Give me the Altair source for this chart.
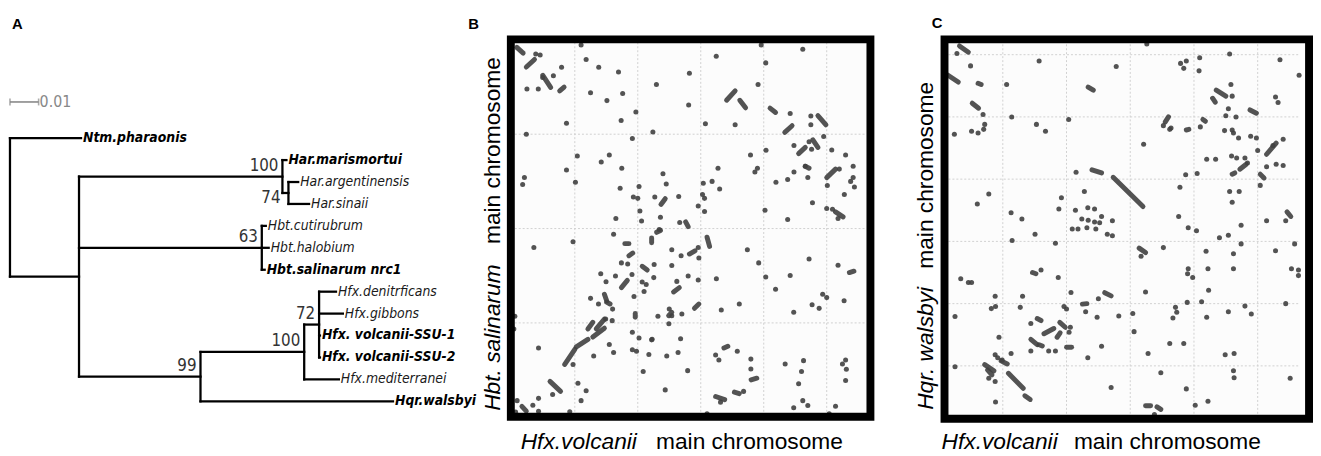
import altair as alt
import pandas as pd

# ---------------- Panel A: phylogenetic tree ----------------
tree_node = ["root", "Ntm.pharaonis", "n1", "n_har", "Har.marismortui", "n_har74",
             "Har.argentinensis", "Har.sinaii", "n_hbt", "Hbt.cutirubrum", "Hbt.halobium",
             "Hbt.salinarum nrc1", "n99", "n_hfx", "n72", "Hfx.denitrficans", "Hfx.gibbons",
             "Hfx. volcanii-SSU-1", "Hfx. volcanii-SSU-2", "Hfx.mediterranei", "Hqr.walsbyi"]
tree_parent = ["", "root", "root", "n1", "n_har", "n_har", "n_har74", "n_har74", "n1",
               "n_hbt", "n_hbt", "n_hbt", "n1", "n99", "n_hfx", "n72", "n72", "n72", "n72",
               "n_hfx", "n99"]
tree_branch = [0.0, 0.0248, 0.0241, 0.0710, 0.0014, 0.0021, 0.0034, 0.0072, 0.0638, 0.0014,
               0.0024, 0.0010, 0.0424, 0.0362, 0.0052, 0.0059, 0.0083, 0.0003, 0.0003,
               0.0121, 0.0672]
boot_node = ["n_har", "n_hbt", "n72", "n_hfx", "n99"]
boot_value = ["100", "63", "72", "100", "99"]
boot_low_node = ["n_har74"]
boot_low_value = ["74"]
bold_tips = ["Ntm.pharaonis", "Har.marismortui", "Hbt.salinarum nrc1",
             "Hfx. volcanii-SSU-1", "Hfx. volcanii-SSU-2", "Hqr.walsbyi"]
scale_bar = [0.0, 0.01]
scale_bar_label = "0.01"

# ---------------- Panel B: Hfx.volcanii vs Hbt.salinarum (Mb) ----------------
B_dot_x = [0.19, 0.225, 0.33, 0.395, 0.12, 0.21, 0.245, 0.434, 0.115, 0.55, 0.59, 0.69, 0.847, 0.625,
           0.755, 0.88, 0.868, 0.985, 0.957, 1.12, 1.148, 1.41, 1.404, 1.623, 1.773, 1.537, 1.98, 2.016,
           1.955, 2.31, 2.21, 2.374, 2.374, 2.476, 2.36, 2.24, 2.38, 2.54, 2.65, 2.018, 1.895, 1.93,
           1.95, 1.637, 1.59, 1.65, 1.52, 1.514, 1.53, 1.48, 1.53, 2.097, 2.19, 2.24, 2.33, 2.35, 2.6,
           2.71, 2.71, 2.72, 2.69, 2.505, 2.64, 2.387, 2.5, 2.546, 2.59, 2.19, 2.01, 0.52, 0.774, 0.71,
           0.873, 0.434, 0.10, 0.086, 0.505, 0.86, 1.01, 0.965, 1.0, 1.017, 1.03, 1.2, 1.226, 1.135,
           1.325, 1.18, 1.333, 1.17, 0.826,
           0.808, 0.486, 0.175, 1.27, 1.344, 1.48, 1.485, 0.87, 0.92, 1.13, 1.27, 0.706, 0.748, 0.823,
           0.954, 1.035, 1.127, 1.31, 1.40, 1.48, 1.624, 1.87, 1.96, 2.016, 2.094, 2.21, 2.36, 2.59,
           1.067, 1.05, 0.97, 0.625, 0.688, 0.80, 0.745, 0.797, 0.957, 1.25, 1.16, 1.247, 1.35, 1.663,
           1.806, 2.238, 2.384, 2.44, 2.468, 2.5, 2.638, 0.024, 0.016, 0.212, 0.486, 0.65, 0.774, 0.808,
           0.957, 0.99, 1.01, 1.043, 1.088, 1.114, 1.23, 1.218, 1.32, 1.34, 1.396, 1.618, 1.644, 1.79,
           1.898, 1.898, 2.17, 2.316, 2.30, 2.277, 2.625, 2.65, 2.656, 2.65, 1.657, 1.84, 2.31, 2.35,
           2.238, 2.57, 1.55, 2.52, 0.324, 0.525, 0.59, 0.55, 0.46, 0.042, 0.167, 0.212, 0.212, 0.03,
           1.11, 1.27]
B_dot_y = [1.925, 1.92, 1.81, 1.855, 1.74, 1.74, 1.80, 1.558, 1.50, 1.973, 1.896, 1.855, 1.83, 1.72,
           1.678, 1.716, 1.573, 1.618, 1.477, 1.512, 1.763, 1.823, 1.655, 1.913, 1.55, 1.555, 1.973,
           1.878, 1.763, 1.95, 1.61, 1.596, 1.55, 1.488, 1.46, 1.44, 1.42, 1.416, 1.39, 1.415, 1.39,
           1.30, 1.32, 1.32, 1.25, 1.21, 1.24, 1.18, 1.16, 1.12, 1.09, 1.245, 1.26, 1.30, 1.33, 1.27,
           1.315, 1.33, 1.27, 1.22, 1.25, 1.228, 1.18, 1.137, 1.106, 1.102, 1.053, 1.048, 1.097, 1.385,
           1.39, 1.353, 1.32, 1.31, 1.27, 1.233, 1.245, 1.214, 1.223, 1.167, 1.16, 1.093, 1.04, 1.29,
           1.236, 1.167, 1.17, 1.06, 1.032, 0.995, 1.053,
           0.97, 0.93, 0.90, 0.888, 0.856, 0.90, 0.844, 0.818, 0.812, 0.81, 0.804, 0.76, 0.718, 0.748,
           0.757, 0.717, 0.74, 0.72, 0.748, 0.727, 0.734, 0.888, 0.818, 0.743, 0.678, 0.751, 0.839,
           0.805, 0.704, 0.666, 0.64, 0.63, 0.60, 0.573, 0.52, 0.512, 0.45, 0.573, 0.535, 0.495, 0.547,
           0.568, 0.60, 0.556, 0.596, 0.577, 0.652, 0.634, 0.617, 0.535, 0.468, 0.367, 0.28, 0.325,
           0.385, 0.343, 0.358, 0.35, 0.42, 0.242, 0.332, 0.413, 0.325, 0.145, 0.343, 0.416, 0.247,
           0.33, 0.303, 0.35, 0.308, 0.256, 0.282, 0.30, 0.242, 0.177, 0.282, 0.303, 0.254, 0.195,
           0.08, 0.137, 0.088, 0.062, 0.05, 0.058, 0.018, 0.018, 0.12, 0.18, 0.14, 0.088, 0.029, 0.088,
           0.064, 0.10, 0.032, 0.027, 0.41, 0.538]
B_seg_x1 = [0.04, 0.115, 0.246, 0.38, 1.705, 1.81, 2.05, 2.167, 2.43, 2.39, 2.277, 2.33, 2.50, 2.57,
            1.184, 1.38, 1.11, 1.15, 0.897, 0.93, 1.41, 1.55, 1.035, 0.87, 1.284, 2.68, 0.735, 0.753,
            0.604, 0.67, 0.98, 1.245, 1.45, 0.42, 0.512, 0.643, 1.684, 1.9, 1.618, 1.767, 0.303, 0.08]
B_seg_y1 = [1.96, 1.856, 1.812, 1.73, 1.68, 1.68, 1.638, 1.51, 1.598, 1.47, 1.397, 1.33, 1.27, 1.088,
            1.128, 1.035, 0.95, 0.98, 0.92, 0.856, 0.865, 0.954, 0.80, 0.687, 0.664, 0.767, 0.652, 0.61,
            0.468, 0.468, 0.55, 0.538, 0.577, 0.28, 0.373, 0.425, 0.367, 0.198, 0.11, 0.133, 0.19, 0.058]
B_seg_x2 = [0.09, 0.18, 0.308, 0.415, 1.773, 1.856, 2.094, 2.225, 2.494, 2.43, 2.33, 2.36, 2.57, 2.63,
            1.218, 1.40, 1.11, 1.18, 0.93, 0.96, 1.454, 1.57, 1.075, 0.917, 1.33, 2.716, 0.753, 0.78,
            0.643, 0.735, 0.98, 1.27, 1.485, 0.50, 0.604, 0.735, 1.715, 1.945, 1.69, 1.806, 0.387, 0.115]
B_seg_y2 = [1.93, 1.896, 1.748, 1.75, 1.73, 1.64, 1.615, 1.545, 1.55, 1.43, 1.43, 1.32, 1.315, 1.062,
            1.158, 1.01, 0.925, 0.99, 0.92, 0.87, 0.882, 0.905, 0.78, 0.725, 0.687, 0.774, 0.617, 0.60,
            0.503, 0.52, 0.53, 0.556, 0.60, 0.36, 0.413, 0.472, 0.376, 0.207, 0.093, 0.125, 0.137, 0.032]
B_grid_x = [0.5, 1.0, 1.5, 2.0, 2.5]
B_grid_y = [0.5, 1.0, 1.5]

# ---------------- Panel C: Hfx.volcanii vs Hqr.walsbyi (Mb) ----------------
C_dot_x = [0.14, 0.247, 0.345, 0.358, 0.35, 0.255, 0.306, 0.12, 0.53, 0.57, 0.764, 0.835, 0.785, 1.39,
           1.017, 1.63, 1.895, 1.94, 1.92, 2.045, 2.04, 2.28, 2.675, 2.825, 2.29, 2.30, 2.27, 2.25, 2.33,
           2.64, 2.66, 1.76, 1.82, 1.81, 2.05, 2.24, 2.30, 2.31, 2.35, 2.445, 2.49, 2.50, 2.62, 2.70,
           2.645, 2.70, 2.57, 2.52, 2.295, 2.335, 2.40, 2.42, 2.10, 2.17, 2.025, 1.935, 1.89, 2.28,
           2.355, 2.30, 2.72, 2.57, 1.88, 1.605, 1.075, 1.14, 0.39, 0.30, 0.96, 0.94, 0.565, 0.65,
           1.07, 1.167, 1.22, 1.275, 1.12, 1.17, 1.22, 1.26, 1.36, 1.045, 1.09, 1.16,
           1.23, 1.32, 1.36, 0.753, 0.573, 0.913, 1.955, 2.02, 2.20, 2.27, 2.37, 2.79, 1.585, 1.76,
           2.095, 2.37, 2.31, 2.64, 0.17, 0.23, 0.255, 0.80, 0.935, 1.955, 1.95, 1.99, 2.11, 2.31,
           2.765, 2.82, 2.82, 2.115, 1.62, 1.035, 0.655, 0.44, 1.25, 0.98, 1.0, 0.637, 0.41, 0.443,
           0.125, 1.15, 1.24, 1.41, 1.52, 1.855, 1.865, 1.835, 1.947, 2.06, 2.27, 2.40, 2.45, 2.10,
           2.72, 1.53, 1.81, 1.92, 1.64, 2.245, 2.315, 2.31, 2.315, 2.755, 1.74, 1.94, 2.01, 2.11,
           1.35, 1.69, 1.167, 1.275, 0.72, 1.03, 1.02, 0.72, 0.86, 0.913, 0.565, 0.47, 0.44, 0.46,
           0.495, 0.39, 0.44, 0.443, 0.125]
C_dot_y = [3.01, 2.91, 2.52, 2.44, 2.40, 2.385, 2.37, 2.36, 2.76, 2.50, 2.44, 2.385, 2.95, 2.905, 2.48,
           3.085, 2.93, 2.95, 2.89, 2.975, 2.87, 3.005, 2.96, 2.835, 2.76, 2.667, 2.565, 2.51, 2.50,
           2.66, 2.615, 2.43, 2.41, 2.40, 2.42, 2.39, 2.395, 2.37, 2.33, 2.345, 2.33, 2.23, 2.27, 2.32,
           2.12, 2.11, 2.10, 1.95, 2.186, 2.17, 2.17, 2.13, 2.16, 2.16, 2.045, 2.035, 1.935, 1.90, 1.90,
           1.815, 1.665, 1.665, 1.70, 2.28, 2.055, 1.90, 1.88, 1.80, 1.85, 1.76, 1.73, 1.68, 1.75,
           1.77, 1.76, 1.70, 1.68, 1.67, 1.655, 1.65, 1.665, 1.60, 1.60, 1.61,
           1.60, 1.557, 1.545, 1.557, 1.507, 1.485, 1.61, 1.585, 1.53, 1.55, 1.63, 1.48, 1.38, 1.45,
           1.42, 1.48, 1.40, 1.425, 1.20, 1.17, 1.17, 1.27, 1.21, 1.28, 1.24, 1.21, 1.28, 1.28, 1.28,
           1.27, 1.225, 1.107, 1.094, 1.09, 1.06, 1.06, 1.04, 0.977, 0.956, 0.97, 0.96, 0.977, 0.896,
           0.935, 0.89, 0.90, 0.92, 0.97, 0.93, 0.885, 1.01, 1.015, 0.935, 0.98, 0.917, 0.89, 1.0,
           0.775, 0.68, 0.68, 0.60, 0.59, 0.60, 0.46, 0.405, 0.40, 0.445, 0.315, 0.184, 0.215, 0.327,
           0.11, 0.565, 0.657, 0.84, 0.81, 0.77, 0.62, 0.62, 0.62, 0.60, 0.73, 0.59, 0.565, 0.546,
           0.40, 0.374, 0.21, 0.493]
C_seg_x1 = [0.16, 0.07, 0.306, 0.26, 1.17, 2.175, 2.146, 2.44, 1.775, 1.94, 2.07, 2.57, 2.52, 2.36,
            2.30, 2.73, 1.20, 1.366, 1.57, 0.733, 1.30, 1.125, 0.77, 0.823, 0.926, 0.947, 0.72, 0.785,
            1.0, 0.487, 0.358, 0.38, 0.544, 0.673, 1.62, 1.71]
C_seg_y1 = [3.07, 2.835, 2.77, 2.61, 2.74, 2.715, 2.65, 2.556, 2.46, 2.395, 2.48, 2.20, 2.04, 2.08,
            2.04, 1.737, 2.075, 2.015, 1.446, 1.25, 1.088, 0.996, 0.88, 0.758, 0.73, 0.85, 0.713, 0.67,
            0.65, 0.54, 0.51, 0.467, 0.44, 0.26, 0.18, 0.17]
C_seg_x2 = [0.23, 0.15, 0.33, 0.31, 1.21, 2.25, 2.167, 2.49, 1.80, 1.96, 2.09, 2.645, 2.55, 2.41,
            2.32, 2.76, 1.275, 1.60, 1.62, 0.76, 1.35, 1.16, 0.80, 0.90, 0.95, 0.99, 0.77, 0.81,
            1.04, 0.535, 0.43, 0.415, 0.66, 0.715, 1.66, 1.74]
C_seg_y2 = [3.02, 2.78, 2.76, 2.57, 2.715, 2.667, 2.618, 2.53, 2.50, 2.40, 2.465, 2.29, 2.01, 2.12,
            2.05, 1.70, 2.05, 1.78, 1.41, 1.24, 1.062, 1.0, 0.864, 0.80, 0.765, 0.81, 0.67, 0.66,
            0.65, 0.515, 0.46, 0.427, 0.32, 0.23, 0.18, 0.15]
C_grid_x = [0.5, 1.0, 1.5, 2.0, 2.5]
C_grid_y = [0.5, 1.0, 1.5, 2.0, 2.5, 3.0]

# ---------------- styles ----------------
NARROW = "Liberation Sans Narrow, Arial Narrow, DejaVu Sans Condensed, Liberation Sans"
SANS = "Liberation Sans, Arial, Helvetica"
DOT = "#404040"
GRID = "#d0d0d0"

# ---------------- tree layout ----------------
xpos = {}
for n, p, b in zip(tree_node, tree_parent, tree_branch):
    xpos[n] = (xpos[p] if p else 0.0) + b
children = {n: [] for n in tree_node}
for n, p in zip(tree_node, tree_parent):
    if p:
        children[p].append(n)
tips = [n for n in tree_node if not children[n]]
ypos = {t: float(i) for i, t in enumerate(tips)}
for n in reversed(tree_node):
    if children[n]:
        ys = [ypos[c] for c in children[n]]
        ypos[n] = (min(ys) + max(ys)) / 2.0

edges = []
for n, p in zip(tree_node, tree_parent):
    if p:
        edges.append((xpos[p], xpos[n], ypos[n], ypos[n]))
    if children[n]:
        ys = [ypos[c] for c in children[n]]
        edges.append((xpos[n], xpos[n], min(ys), max(ys)))
edges_df = pd.DataFrame(edges, columns=["x", "x2", "y", "y2"])
tips_df = pd.DataFrame({"name": tips, "x": [xpos[t] for t in tips], "y": [ypos[t] for t in tips],
                        "bold": [t in bold_tips for t in tips]})
boot_df = pd.DataFrame({"v": boot_value, "x": [xpos[n] for n in boot_node], "y": [ypos[n] for n in boot_node]})
boot_low_df = pd.DataFrame({"v": boot_low_value, "x": [xpos[n] for n in boot_low_node],
                            "y": [ypos[n] for n in boot_low_node]})
SB_Y = -1.65
sb_df = pd.DataFrame({"x": [scale_bar[0]], "x2": [scale_bar[1]], "y": [SB_Y]})
sb_ends_df = pd.DataFrame({"x": scale_bar})
sb_lab_df = pd.DataFrame({"x": [scale_bar[1]], "y": [SB_Y], "t": [scale_bar_label]})

xA = alt.Scale(domain=[0, 0.1], range=[2, 292], nice=False, zero=False)
yA = alt.Scale(domain=[0, 12], range=[129, 395.4], nice=False, zero=False)


def letter(t, x, y):
    return alt.Chart(pd.DataFrame({"t": [t]})).mark_text(
        font=SANS, fontSize=15, fontWeight="bold", align="left", baseline="middle", color="black"
    ).encode(text="t:N", x=alt.value(x), y=alt.value(y))


def label(t, x, y, italic, align="left", angle=0, baseline="alphabetic", size=23):
    kw = dict(font=SANS, fontSize=size, align=align, baseline=baseline, color="black", angle=angle)
    if italic:
        kw["fontStyle"] = "italic"
    return alt.Chart(pd.DataFrame({"t": [t]})).mark_text(**kw).encode(
        text="t:N", x=alt.value(x), y=alt.value(y))


tree_lines = alt.Chart(edges_df).mark_rule(color="black", strokeWidth=2.3, strokeCap="square").encode(
    x=alt.X("x:Q", scale=xA, axis=None), x2="x2:Q",
    y=alt.Y("y:Q", scale=yA, axis=None), y2="y2:Q")
tips_bold = alt.Chart(tips_df).transform_filter("datum.bold").mark_text(
    font=NARROW, fontSize=14, fontStyle="italic", fontWeight="bold", align="left",
    baseline="middle", dx=2, color="black").encode(
    x=alt.X("x:Q", scale=xA, axis=None), y=alt.Y("y:Q", scale=yA, axis=None), text="name:N")
tips_reg = alt.Chart(tips_df).transform_filter("!datum.bold").mark_text(
    font=NARROW, fontSize=14, fontStyle="italic", align="left",
    baseline="middle", dx=2, color="#1a1a1a").encode(
    x=alt.X("x:Q", scale=xA, axis=None), y=alt.Y("y:Q", scale=yA, axis=None), text="name:N")
boots = alt.Chart(boot_df).mark_text(
    font=NARROW, fontSize=17, align="right", baseline="middle", dx=-4, dy=-11, color="#333").encode(
    x=alt.X("x:Q", scale=xA, axis=None), y=alt.Y("y:Q", scale=yA, axis=None), text="v:N")
boots_low = alt.Chart(boot_low_df).mark_text(
    font=NARROW, fontSize=17, align="right", baseline="middle", dx=-8, dy=5, color="#333").encode(
    x=alt.X("x:Q", scale=xA, axis=None), y=alt.Y("y:Q", scale=yA, axis=None), text="v:N")
sb_line = alt.Chart(sb_df).mark_rule(color="#888", strokeWidth=1.6).encode(
    x=alt.X("x:Q", scale=xA, axis=None), x2="x2:Q", y=alt.Y("y:Q", scale=yA, axis=None))
sb_ends = alt.Chart(sb_ends_df).mark_tick(color="#888", thickness=1.6, size=7, orient="vertical").encode(
    x=alt.X("x:Q", scale=xA, axis=None), y=alt.Y("y:Q", scale=yA, axis=None)
).transform_calculate(y=str(SB_Y))
sb_text = alt.Chart(sb_lab_df).mark_text(
    font=NARROW, fontSize=16, align="left", baseline="middle", dx=1, color="#888").encode(
    x=alt.X("x:Q", scale=xA, axis=None), y=alt.Y("y:Q", scale=yA, axis=None), text="t:N")

panelA = alt.layer(tree_lines, tips_bold, tips_reg, boots, boots_low, sb_line, sb_ends, sb_text,
                   letter("A", 4, 14)).properties(width=452, height=448)


# ---------------- dot-plot panels ----------------
def dotplot(dx, dy, sx1, sy1, sx2, sy2, gx, gy, xsc, ysc, inner, frame, W, H, extras):
    left, top, right, bottom = inner
    pts = pd.DataFrame({"x": dx, "y": dy})
    segs = pd.DataFrame({"x": sx1, "y": sy1, "x2": sx2, "y2": sy2})
    gxdf = pd.DataFrame({"v": gx})
    gydf = pd.DataFrame({"v": gy})
    one = pd.DataFrame({"k": [0]})
    bg = alt.Chart(one).mark_rect(fill="#fcfcfc").encode(
        x=alt.value(left), x2=alt.value(right), y=alt.value(top), y2=alt.value(bottom))
    gv = alt.Chart(gxdf).mark_rule(color=GRID, strokeDash=[2, 2], strokeWidth=1).encode(
        x=alt.X("v:Q", scale=xsc, axis=None), y=alt.value(top), y2=alt.value(bottom))
    gh = alt.Chart(gydf).mark_rule(color=GRID, strokeDash=[2, 2], strokeWidth=1).encode(
        y=alt.Y("v:Q", scale=ysc, axis=None), x=alt.value(left), x2=alt.value(right))
    sg = alt.Chart(segs).mark_rule(color=DOT, strokeWidth=5, strokeCap="round", opacity=0.9).encode(
        x=alt.X("x:Q", scale=xsc, axis=None), x2="x2:Q",
        y=alt.Y("y:Q", scale=ysc, axis=None), y2="y2:Q")
    pt = alt.Chart(pts).mark_circle(color=DOT, size=26, opacity=0.9).encode(
        x=alt.X("x:Q", scale=xsc, axis=None), y=alt.Y("y:Q", scale=ysc, axis=None))
    fx1, fy1, fx2, fy2 = frame
    fr = alt.Chart(one).mark_rect(fillOpacity=0, stroke="black", strokeWidth=8).encode(
        x=alt.value(fx1), x2=alt.value(fx2), y=alt.value(fy1), y2=alt.value(fy2))
    return alt.layer(bg, gv, gh, sg, pt, fr, *extras).properties(width=W, height=H)


xB = alt.Scale(domain=[0, 3], range=[58, 440.5], nice=False, zero=False)
yB = alt.Scale(domain=[0, 2], range=[411.5, 29.5], nice=False, zero=False)
panelB = dotplot(B_dot_x, B_dot_y, B_seg_x1, B_seg_y1, B_seg_x2, B_seg_y2, B_grid_x, B_grid_y,
                 xB, yB, (61, 32, 417, 407), (57, 29, 421, 411), 440, 448,
                 [letter("B", 14, 14),
                  label("Hfx.volcanii", 67, 444, True),
                  label("main chromosome", 204, 444, False),
                  label("Hbt. salinarum", 39, 405, True, align="left", angle=270, baseline="middle"),
                  label("main chromosome", 39, 47, False, align="right", angle=270, baseline="middle")])

xC = alt.Scale(domain=[0, 3], range=[50.5, 437.5], nice=False, zero=False)
yC = alt.Scale(domain=[0, 3], range=[422.5, 44.5], nice=False, zero=False)
panelC = dotplot(C_dot_x, C_dot_y, C_seg_x1, C_seg_y1, C_seg_x2, C_seg_y2, C_grid_x, C_grid_y,
                 xC, yC, (60, 34, 416, 409), (56, 29, 425, 413), 421, 448,
                 [letter("C", 43, 12),
                  label("Hfx.volcanii", 53, 444, True),
                  label("main chromosome", 187, 444, False),
                  label("Hqr. walsbyi", 37, 404, True, align="left", angle=270, baseline="middle"),
                  label("main chromosome", 37, 72, False, align="right", angle=270, baseline="middle")])

chart = alt.hconcat(panelA, panelB, panelC, spacing=0, bounds="flush").properties(
    padding=0, background="white"
).configure_view(stroke=None)

chart.save("out.html", embed_options={"renderer": "svg", "actions": False})
